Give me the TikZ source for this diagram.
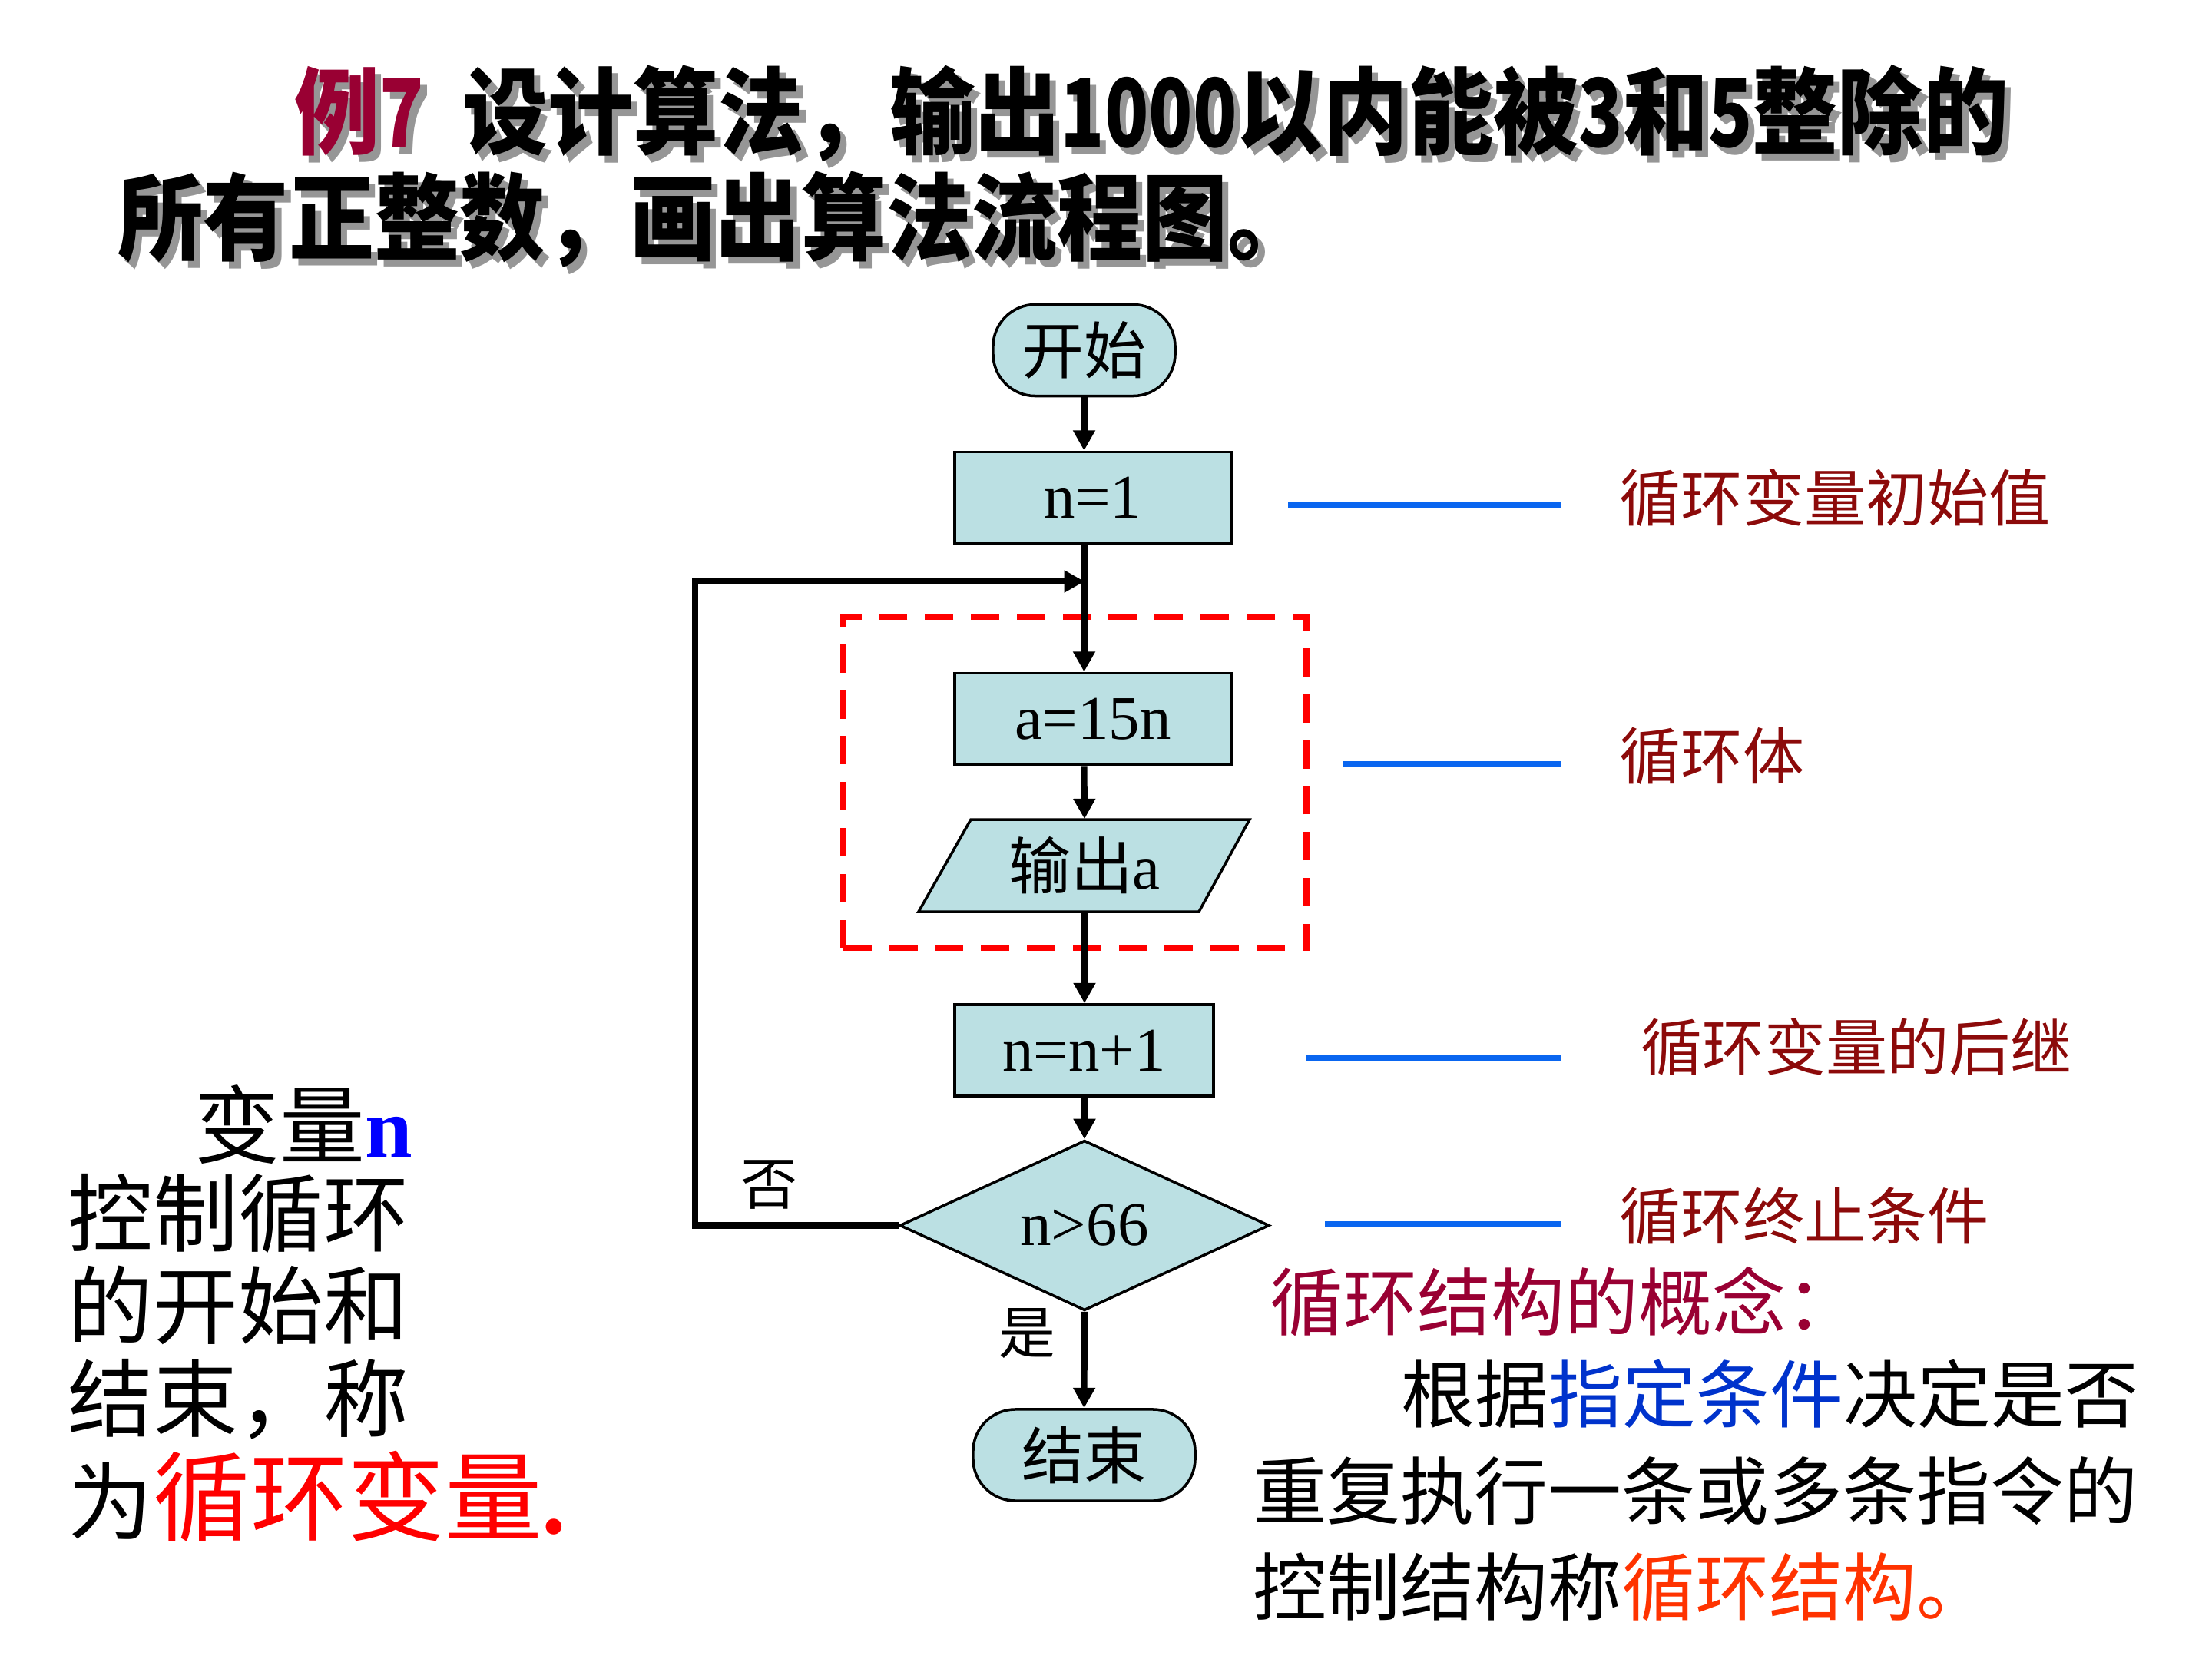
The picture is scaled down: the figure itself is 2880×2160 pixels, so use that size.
\documentclass[tikz,border=0pt]{standalone}
\usepackage{graphicx}
\usepackage{fontspec}
\setmainfont{Liberation Serif}
\newfontfamily\cjk{Noto Sans CJK SC}
\usetikzlibrary{arrows.meta,shapes.geometric,calc}
\definecolor{boxfill}{RGB}{187,224,227}
\definecolor{annot}{RGB}{140,10,10}
\definecolor{crimsonc}{RGB}{153,0,51}
\definecolor{lineblue}{RGB}{10,102,240}
\definecolor{textblue}{RGB}{0,51,204}
\definecolor{orangered}{RGB}{255,51,0}
\definecolor{shadowgray}{RGB}{150,150,150}
\newcommand{\narrowdig}[1]{\scalebox{0.85}[1]{#1}}
\newcommand{\titlelineone}[1]{{\color{#1}例\narrowdig{7}}\hspace{0.45em}设计算法，输出\narrowdig{1000}以内能被\narrowdig{3}和\narrowdig{5}整除的}
\newcommand{\titlelinetwo}{所有正整数，画出算法流程图。}
\newcommand{\withshadow}[2]{\scalebox{1.01}[1.12]{\rlap{\hspace{2.3pt}\raisebox{-2.3pt}{\color{shadowgray}#2}}#1}}
\begin{document}
\begin{tikzpicture}[x=0.01cm,y=-0.01cm,
  boxline/.style={draw=black, line width=1pt, fill=boxfill},
  boxfont/.style={font=\fontsize{23}{26}\selectfont},
  proc/.style={boxline, boxfont, inner sep=0pt, minimum height=1.19cm},
  term/.style={boxline, boxfont, inner sep=0pt, rounded corners=0.55cm, minimum height=1.19cm},
  decision/.style={boxline, boxfont, diamond, inner sep=0pt, minimum width=4.81cm, minimum height=1.89cm},
  conn/.style={line width=2.3pt},
  arr/.style={conn, -{Triangle[length=7.5pt,width=7.8pt]}},
  annline/.style={draw=lineblue, line width=2pt},
  annlab/.style={anchor=west, inner sep=0pt, text=annot, font=\cjk\fontsize{22.8}{26}\selectfont},
  titlefont/.style={anchor=west, inner sep=0pt, font=\cjk\bfseries\fontsize{31.3}{36}\selectfont},
  leftfont/.style={anchor=west, inner sep=0pt, font=\cjk\fontsize{31.5}{36}\selectfont},
  parafont/.style={anchor=west, inner sep=0pt, font=\cjk\fontsize{27.3}{31}\selectfont},
  yn/.style={inner sep=0pt, font=\cjk\fontsize{21}{24}\selectfont}
]
\useasboundingbox (0,0) rectangle (2880,2160);

% ---- title with shadow ----
\node[titlefont] (t1) at (383,152) {\withshadow{\titlelineone{crimsonc}}{\titlelineone{shadowgray}}};
\node[titlefont] (t2) at (153,290) {\withshadow{\titlelinetwo}{\titlelinetwo}};

% ---- loop body frame ----
\node[draw=red, line width=2.1pt, dash pattern=on 10.5pt off 6.5pt, minimum width=6.03cm, minimum height=4.31cm, inner sep=0pt] (body) at (1399.5,1018.5) {};

% ---- flowchart nodes ----
\node[term, minimum width=2.37cm] (start) at (1411.5,456) {\cjk 开始};
\node[proc, minimum width=3.60cm] (n1) at (1423,648) {n=1};
\node[proc, minimum width=3.60cm] (a) at (1423,936) {a=15n};
\filldraw[boxline] (1264,1067) -- (1627,1067) -- (1561,1187) -- (1196,1187) -- cycle;
\node[boxfont, inner sep=0pt, minimum width=3.0cm, minimum height=1.2cm] (out) at (1412,1127) {{\cjk 输出}a};
\node[proc, minimum width=3.37cm] (inc) at (1411.5,1367.5) {n=n+1};
\node[decision] (dec) at (1412,1595.5) {n>66};
\node[term, minimum width=2.89cm] (end) at (1411.5,1894.5) {\cjk 结束};

\node[yn] (no) at (1001,1543) {否};
\node[yn] (yes) at (1337,1736) {是};

% ---- connectors ----
\coordinate (merge) at (1412,757);
\coordinate (corner) at (905,757);
\draw[arr] (start.south) -- (start.south |- n1.north);
\draw[arr] (n1.south -| start.south) -- (a.north -| start.south);
\draw[arr] (a.south -| start.south) -- (out.north);
\draw[arr] (out.south) -- (inc.north -| out.south);
\draw[arr] (inc.south -| dec.north) -- (dec.north);
\draw[arr] (dec.south) -- (end.north);
\draw[arr] (dec.west) -| (corner) -- (merge);

% ---- annotations on the right ----
\node[annlab] (lab1) at (2108,648) {循环变量初始值};
\node[annlab] (lab2) at (2108,984) {循环体};
\node[annlab] (lab3) at (2136,1363) {循环变量的后继};
\node[annlab] (lab4) at (2108,1583) {循环终止条件};
\coordinate (b1s) at (1677,658); \coordinate (b1e) at (2033,658);
\coordinate (b2s) at (1749,995); \coordinate (b2e) at (2033,995);
\coordinate (b3s) at (1701,1377); \coordinate (b3e) at (2033,1377);
\coordinate (b4s) at (1725,1594); \coordinate (b4e) at (2033,1594);
\draw[annline] (b1s) -- (b1e);
\draw[annline] (b2s) -- (b2e);
\draw[annline] (b3s) -- (b3e);
\draw[annline] (b4s) -- (b4e);

% ---- concept paragraph ----
\node[parafont, text=crimsonc] (concept) at (1653,1695) {循环结构的概念：};
\node[parafont] (p1) at (1824,1815) {根据{\color{textblue}指定条件}决定是否};
\node[parafont] (p2) at (1631,1941) {重复执行一条或多条指令的};
\node[parafont] (p3) at (1631,2066) {控制结构称{\color{orangered}循环结构。}};

% ---- left note ----
\node[leftfont] (l1) at (253,1464) {变量{\rmfamily\bfseries\color{blue}n}};
\node[leftfont] (l2) at (88,1580) {控制循环};
\node[leftfont] (l3) at (88,1699) {的开始和};
\node[leftfont] (l4) at (88,1822) {结束，称};
\node[leftfont] (l5) at (88,1948) {为{\color{red}\fontsize{36}{40}\selectfont 循环变量{\rmfamily\bfseries .}}};
\end{tikzpicture}
\end{document}
